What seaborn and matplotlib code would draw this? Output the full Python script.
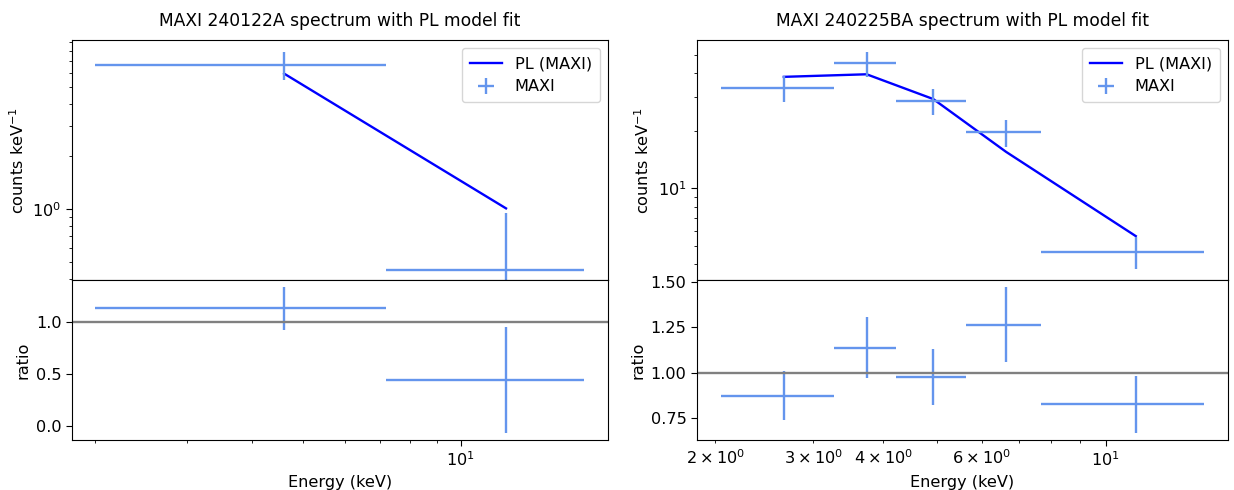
import seaborn as sns
import numpy as np
import matplotlib.pyplot as plt

# MAXI 240122A
e1 = [4.6, 12.2]
e1_err = [2.6, 5.0]
c1 = [6.7, 0.446]
c1_err = [1.2, 0.51]
m1 = [5.95, 1.01]

# MAXI 240225BA
e2 = [2.655, 3.735, 4.915, 6.635, 11.325]
e2_err = [0.605, 0.475, 0.705, 1.015, 3.675]
c2 = [33.5, 45.0, 28.6, 19.6, 4.64]
c2_err = [5.2, 6.7, 4.5, 3.2, 0.88]
m2 = [38.3, 39.5, 29.3, 15.5, 5.61]

titles = ["MAXI 240122A spectrum with PL model fit",
          "MAXI 240225BA spectrum with PL model fit"]

plt.rcParams['font.size'] = 11.6
plt.rcParams['xtick.major.size'] = 4
plt.rcParams['ytick.major.size'] = 4
plt.rcParams['xtick.minor.size'] = 2.3
plt.rcParams['ytick.minor.size'] = 2.3

fig = plt.figure(figsize=(12.34, 4.9), dpi=100)
gsl = fig.add_gridspec(2, 1, left=0.0583, right=0.4927, top=0.918, bottom=0.102,
                       hspace=0, height_ratios=[3, 2])
gsr = fig.add_gridspec(2, 1, left=0.5648, right=0.9951, top=0.918, bottom=0.102,
                       hspace=0, height_ratios=[3, 2])

panels = [(gsl, e1, e1_err, c1, c1_err, m1, (0.393, 9.24), (1.81, 19.1)),
          (gsr, e2, e2_err, c2, c2_err, m2, (3.30, 59.6), (1.856, 16.56))]

for i, (gs, e, ee, c, ce, m, ylim, xlim) in enumerate(panels):
    ax = fig.add_subplot(gs[0])
    axr = fig.add_subplot(gs[1], sharex=ax)
    ax.set_xscale('log')
    ax.set_yscale('log')
    e = np.array(e); ee = np.array(ee)
    c = np.array(c); ce = np.array(ce); m = np.array(m)

    sns.lineplot(x=e, y=m, ax=ax, color='blue', lw=1.7, label='PL (MAXI)', estimator=None)
    ax.errorbar(e, c, xerr=ee, yerr=ce, fmt='none', ecolor='cornflowerblue',
                elinewidth=1.7, label='MAXI')
    ax.set_ylim(*ylim)
    ax.set_xlim(*xlim)
    ax.set_ylabel('counts keV$^{-1}$')
    ax.set_title(titles[i], fontsize=12.35, pad=10)
    ax.legend(loc='upper right', borderpad=0.5)
    ax.tick_params(axis='x', which='both', labelbottom=False)

    # ratio panel
    axr.errorbar(e, c / m, xerr=ee, yerr=ce / m, fmt='none', ecolor='cornflowerblue',
                 elinewidth=1.7)
    axr.axhline(1.0, color='gray', lw=1.7)
    axr.set_ylabel('ratio')
    axr.set_xlabel('Energy (keV)')

fig.savefig('out.png', dpi=100)
